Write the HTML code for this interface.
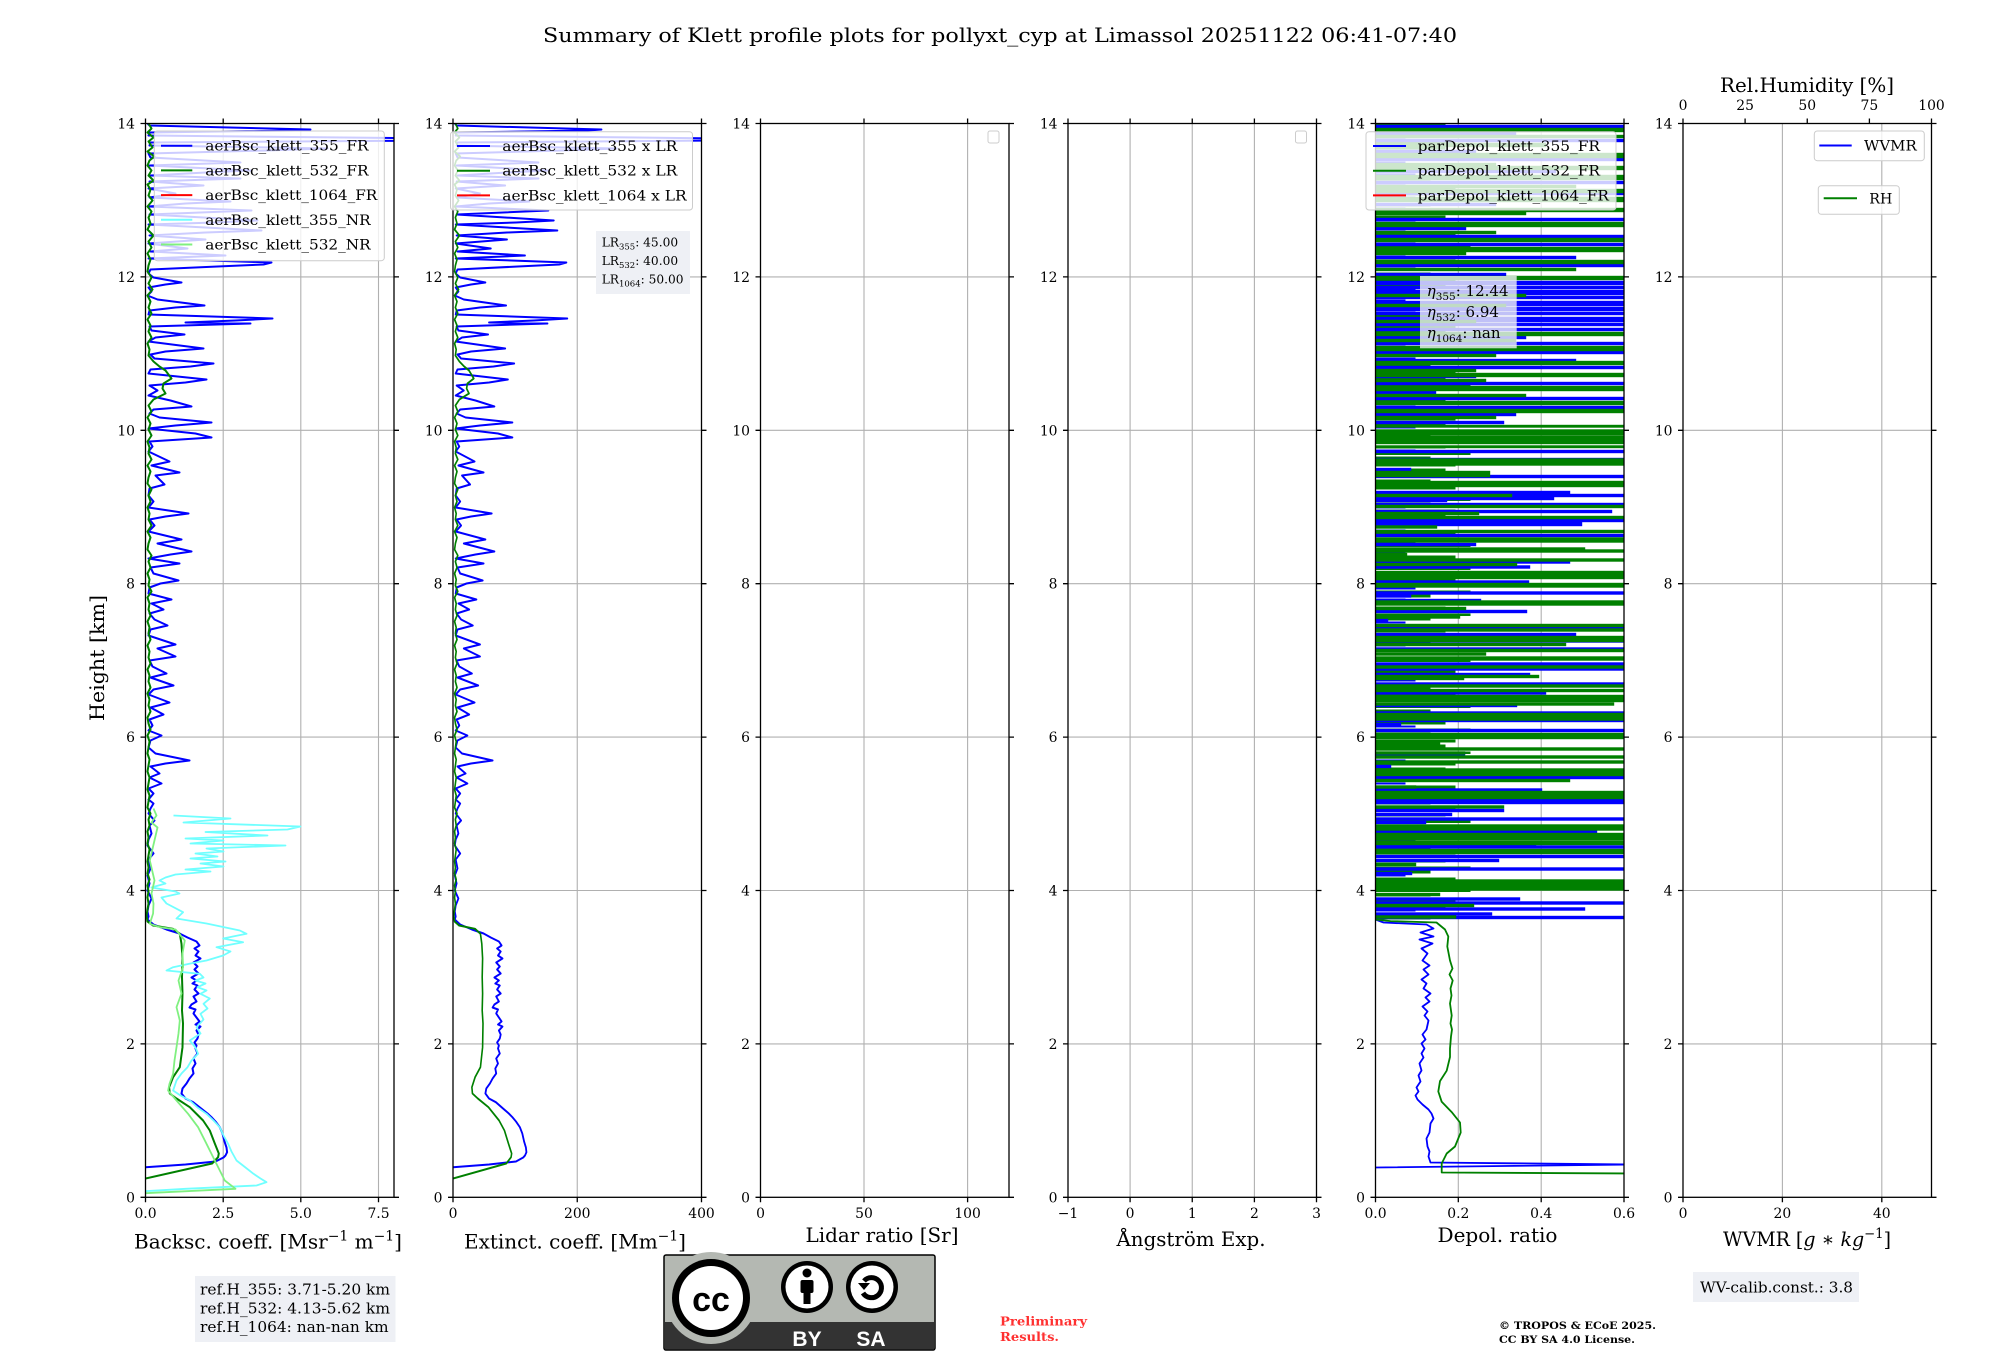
<!DOCTYPE html>
<html><head><meta charset="utf-8"><style>
html,body{margin:0;padding:0;background:#fff;}
svg{display:block;}
text{font-family:"DejaVu Serif","Liberation Serif",serif;fill:#000;}
</style></head><body>
<svg width="2000" height="1360" viewBox="0 0 2000 1360" xmlns="http://www.w3.org/2000/svg">
<defs>
<clipPath id="cp"><rect x="0" y="0" width="248.5" height="1073.8"/></clipPath>
<pattern id="lp" x="0" y="0" width="260" height="23" patternUnits="userSpaceOnUse">
<rect x="0" y="0" width="70" height="3" fill="#008000"/>
<rect x="0" y="4" width="40" height="2" fill="#0000ff"/>
<rect x="0" y="7" width="95" height="2.5" fill="#008000"/>
<rect x="0" y="11" width="55" height="3" fill="#008000"/>
<rect x="0" y="15" width="30" height="2" fill="#0000ff"/>
<rect x="0" y="18" width="80" height="3" fill="#008000"/>
</pattern>
<polyline id="b355" fill="none" stroke="#0000ff" stroke-width="2" stroke-linejoin="round" points="2,0 4,2 165,6 150,7 4,9 3,12 300,15 300,17 5,19 4,22 182,25 120,27 3,30 5,34 95,39 4,42 105,47 60,49 5,52 95,55 4,58 58,62 3,65 30,70 4,74 85,78 40,80 3,83 106,87 4,91 112,97 70,99 3,101 116,107 60,109 4,112 60,116 3,120 42,125 5,128 80,132 3,135 126,139 118,141 72,143 5,146 3,150 8,154 36,159 20,161 3,164 6,168 2,172 12,176 59,182 30,184 4,187 3,191 127,195 90,197 40,199 105,200 4,203 6,207 39,211 10,214 3,218 58,225 20,228 5,231 9,235 68,240 45,243 5,246 3,250 61,256 40,259 4,262 12,267 3,272 25,277 46,283 8,286 4,290 14,294 66,299 30,302 3,305 50,310 66,314 4,318 7,323 3,328 24,338 6,342 34,349 10,352 19,361 4,365 3,372 8,378 3,384 43,390 20,393 4,396 9,402 3,408 36,416 12,420 46,428 25,431 3,435 34,440 5,444 8,450 33,457 15,460 4,464 3,470 26,476 6,480 18,486 4,490 9,496 22,502 5,506 3,512 30,521 12,525 30,533 4,537 7,543 21,550 5,554 28,562 8,566 3,571 24,579 5,584 18,591 4,596 7,602 3,607 16,612 5,617 3,624 10,630 44,637 20,640 5,643 14,650 4,654 16,660 3,665 8,670 3,676 8,680 5,685 3,690 9,697 4,702 6,710 3,716 2,722 8,730 3,736 5,745 2,752 4,760 2,767 6,775 3,782 2,788 3,793 2,796 8,801 21,806 34,810 42,814 51,818 54,822 49,825 53,828 50,832 55,835 48,839 52,843 49,846 53,850 46,854 51,857 47,860 52,862 49,866 53,870 48,873 51,878 46,881 44,884 50,886 48,890 51,894 54,898 50,901 55,903 51,907 53,911 52,915 49,919 51,922 50,925 52,930 48,935 50,940 47,945 48,950 44,955 41,960 37,965 36,970 40,975 47.6,978.7 56,985.3 62,990 66,993.7 70,998 74.3,1003.7 77,1010 79,1018 81,1024 81.6,1028.7 80,1032 78,1034 70,1038 40,1041 0,1043.7"/>
<polyline id="g532" fill="none" stroke="#008000" stroke-width="2" stroke-linejoin="round" points="3,0 6,5 2,9 8,14 3,18 7,24 2,28 9,33 4,37 2,42 6,47 3,52 8,57 2,61 5,66 3,72 7,77 2,83 6,88 3,94 5,100 2,106 8,112 3,118 6,124 2,130 5,136 3,142 2,148 6,154 3,160 7,166 2,172 5,178 3,184 6,190 2,196 5,202 3,208 6,214 2,220 4,226 3,232 8,238 14,243 20,247 26,255 18,260 17,265 20,270 8,276 3,282 6,288 2,294 5,300 3,306 6,312 2,318 4,324 3,330 6,336 2,342 5,348 3,354 2,360 6,366 3,372 5,378 2,384 4,390 3,396 6,402 2,408 5,414 3,420 2,426 6,432 3,438 5,444 2,450 4,456 3,462 6,468 2,474 4,480 3,486 5,492 2,498 4,504 3,510 5,516 2,522 4,528 3,534 5,540 2,546 4,552 3,558 5,564 2,570 4,576 3,582 5,588 2,594 3,600 5,606 2,612 4,618 3,624 2,630 4,636 3,642 2,648 4,654 3,660 2,666 4,672 3,678 2,684 5,690 3,696 4,702 2,708 3,714 2,720 4,726 3,732 2,738 3,744 2,750 4,756 2,762 3,768 2,774 3,780 2,786 1,792 2,798 7.6,802 27.6,805.3 34.3,810.3 36,820.3 37,835 36.5,853.7 37,870 36.5,887 37.5,900 37,923.7 34.3,943.7 27.6,953.7 23.6,963.7 24.3,970 31,975 44.3,983.7 57.6,997 64.3,1007 69.3,1020 73.3,1030 72.6,1033.7 66.6,1040 0,1055"/>
</defs>

<!-- Title -->
<text x="1000" y="42" text-anchor="middle" font-size="19.4" textLength="914" lengthAdjust="spacingAndGlyphs">Summary of Klett profile plots for pollyxt_cyp at Limassol 20251122 06:41-07:40</text>
<!-- Y label -->
<text transform="translate(104,658) rotate(-90)" text-anchor="middle" font-size="19.4" textLength="126" lengthAdjust="spacingAndGlyphs">Height [km]</text>

<!-- ============ AXIS 1 ============ -->
<g transform="translate(145.5,123.5)">
<path d="M77.7,0V1073.8M155.3,0V1073.8M233,0V1073.8M0,153.4H248.5M0,306.8H248.5M0,460.2H248.5M0,613.6H248.5M0,767H248.5M0,920.4H248.5" stroke="#b0b0b0" stroke-width="1.1" fill="none"/>
<g clip-path="url(#cp)">
<use href="#b355"/>
<use href="#g532"/>
<polyline fill="none" stroke="#70ffff" stroke-width="1.8" stroke-linejoin="round" points="28,692 85,695 38,699 155,703 142,706 60,708.5 122,712 40,715 78,717 45,720 140,722 61,725 78,728 50,730 72,733 45,735 80,738 55,740 78,743 40,746 65,748 30,751 20,754 14,757 20,760 6,764 30,768 34,770 16,774 21,780 37.6,788.7 31,795 61,800 94.3,807 101,810.3 77.6,815 97.6,818.7 71,823.7 85,828 77.6,832 61,837 45,840 27.6,843.7 21,847 54.3,850.3 58,854 50,857 60,860 52,863.7 61,867 55,870.3 64.3,875 58,880.3 62,885 55,890.3 58,896 51,903.7 55,910 44.3,917 50,924 52.6,930.3 46,937 42,943.7 36,950 31,957 27.6,967 35,972 44.3,977 52,984 61,990.3 68,997 74.3,1003.7 78,1012 82.6,1020.3 86,1028 91,1037 100,1044 108,1050.3 115,1055 121,1058.7 111,1062 40,1065.3 0,1067.7"/>
<polyline fill="none" stroke="#80f080" stroke-width="1.8" stroke-linejoin="round" points="8,685 11,692 6,699 12,704 4.3,737 9,757 6,770 8,780 7.6,790 4.3,800.3 14.3,803.7 30,806 39.3,817 37,830 37.6,843.7 33,857 36,870 31,883.7 34.3,897 33,910 31,923.7 29,937 27.6,950.3 24,960.3 22.6,967 31,977 42.6,990.3 52.6,1003.7 61,1020.3 69.3,1037 79.3,1057 90,1065.3 0,1069.7"/>
</g>
<rect x="0" y="0" width="248.5" height="1073.8" fill="none" stroke="#000" stroke-width="1.3"/>
<path d="M-5,0H0M-5,153.4H0M-5,306.8H0M-5,460.2H0M-5,613.6H0M-5,767H0M-5,920.4H0M-5,1073.8H0M248.5,0h5M248.5,153.4h5M248.5,306.8h5M248.5,460.2h5M248.5,613.6h5M248.5,767h5M248.5,920.4h5M248.5,1073.8h5M0,1073.8v5M77.7,1073.8v5M155.3,1073.8v5M233,1073.8v5M0,0v-5M77.7,0v-5M155.3,0v-5M233,0v-5" stroke="#000" stroke-width="1.3"/>
<g font-size="13.9" text-anchor="end"><text x="-10.5" y="5">14</text><text x="-10.5" y="158.4">12</text><text x="-10.5" y="311.8">10</text><text x="-10.5" y="465.2">8</text><text x="-10.5" y="618.6">6</text><text x="-10.5" y="772">4</text><text x="-10.5" y="925.4">2</text><text x="-10.5" y="1078.8">0</text></g>
<g font-size="13.9" text-anchor="middle"><text x="0" y="1094.5">0.0</text><text x="77.7" y="1094.5">2.5</text><text x="155.3" y="1094.5">5.0</text><text x="233" y="1094.5">7.5</text></g>
</g>
<text x="268" y="1248.3" text-anchor="middle" font-size="19.4" textLength="268" lengthAdjust="spacingAndGlyphs">Backsc. coeff. [Msr<tspan dy="-8" font-size="13.5">−1</tspan><tspan dy="8"> m</tspan><tspan dy="-8" font-size="13.5">−1</tspan><tspan dy="8">]</tspan></text>

<!-- ============ AXIS 2 ============ -->
<g transform="translate(453,123.5)">
<path d="M124.25,0V1073.8M0,153.4H248.5M0,306.8H248.5M0,460.2H248.5M0,613.6H248.5M0,767H248.5M0,920.4H248.5" stroke="#b0b0b0" stroke-width="1.1" fill="none"/>
<g clip-path="url(#cp)">
<use href="#b355" transform="scale(0.9,1)"/>
<use href="#g532" transform="scale(0.8,1)"/>
</g>
<rect x="0" y="0" width="248.5" height="1073.8" fill="none" stroke="#000" stroke-width="1.3"/>
<path d="M-5,0H0M-5,153.4H0M-5,306.8H0M-5,460.2H0M-5,613.6H0M-5,767H0M-5,920.4H0M-5,1073.8H0M248.5,0h5M248.5,153.4h5M248.5,306.8h5M248.5,460.2h5M248.5,613.6h5M248.5,767h5M248.5,920.4h5M248.5,1073.8h5M0,1073.8v5M124.25,1073.8v5M248.5,1073.8v5M0,0v-5M124.25,0v-5M248.5,0v-5" stroke="#000" stroke-width="1.3"/>
<g font-size="13.9" text-anchor="end"><text x="-10.5" y="5">14</text><text x="-10.5" y="158.4">12</text><text x="-10.5" y="311.8">10</text><text x="-10.5" y="465.2">8</text><text x="-10.5" y="618.6">6</text><text x="-10.5" y="772">4</text><text x="-10.5" y="925.4">2</text><text x="-10.5" y="1078.8">0</text></g>
<g font-size="13.9" text-anchor="middle"><text x="0" y="1094.5">0</text><text x="124.25" y="1094.5">200</text><text x="248.5" y="1094.5">400</text></g>
</g>
<text x="575" y="1248.3" text-anchor="middle" font-size="19.4" textLength="222" lengthAdjust="spacingAndGlyphs">Extinct. coeff. [Mm<tspan dy="-8" font-size="13.5">−1</tspan><tspan dy="8">]</tspan></text>

<!-- ============ AXIS 3 ============ -->
<g transform="translate(760.5,123.5)">
<path d="M103.5,0V1073.8M207.1,0V1073.8M0,153.4H248.5M0,306.8H248.5M0,460.2H248.5M0,613.6H248.5M0,767H248.5M0,920.4H248.5" stroke="#b0b0b0" stroke-width="1.1" fill="none"/>
<rect x="0" y="0" width="248.5" height="1073.8" fill="none" stroke="#000" stroke-width="1.3"/>
<path d="M-5,0H0M-5,153.4H0M-5,306.8H0M-5,460.2H0M-5,613.6H0M-5,767H0M-5,920.4H0M-5,1073.8H0M248.5,0h5M248.5,153.4h5M248.5,306.8h5M248.5,460.2h5M248.5,613.6h5M248.5,767h5M248.5,920.4h5M248.5,1073.8h5M0,1073.8v5M103.5,1073.8v5M207.1,1073.8v5M0,0v-5M103.5,0v-5M207.1,0v-5" stroke="#000" stroke-width="1.3"/>
<g font-size="13.9" text-anchor="end"><text x="-10.5" y="5">14</text><text x="-10.5" y="158.4">12</text><text x="-10.5" y="311.8">10</text><text x="-10.5" y="465.2">8</text><text x="-10.5" y="618.6">6</text><text x="-10.5" y="772">4</text><text x="-10.5" y="925.4">2</text><text x="-10.5" y="1078.8">0</text></g>
<g font-size="13.9" text-anchor="middle"><text x="0" y="1094.5">0</text><text x="103.5" y="1094.5">50</text><text x="207.1" y="1094.5">100</text></g>
<rect x="227.5" y="7.5" width="11" height="12" rx="2" fill="#fff" stroke="#cccccc" stroke-width="1"/>
</g>
<text x="882" y="1242" text-anchor="middle" font-size="19.4" textLength="153" lengthAdjust="spacingAndGlyphs">Lidar ratio [Sr]</text>

<!-- ============ AXIS 4 ============ -->
<g transform="translate(1068,123.5)">
<path d="M62.1,0V1073.8M124.25,0V1073.8M186.4,0V1073.8M0,153.4H248.5M0,306.8H248.5M0,460.2H248.5M0,613.6H248.5M0,767H248.5M0,920.4H248.5" stroke="#b0b0b0" stroke-width="1.1" fill="none"/>
<rect x="0" y="0" width="248.5" height="1073.8" fill="none" stroke="#000" stroke-width="1.3"/>
<path d="M-5,0H0M-5,153.4H0M-5,306.8H0M-5,460.2H0M-5,613.6H0M-5,767H0M-5,920.4H0M-5,1073.8H0M248.5,0h5M248.5,153.4h5M248.5,306.8h5M248.5,460.2h5M248.5,613.6h5M248.5,767h5M248.5,920.4h5M248.5,1073.8h5M0,1073.8v5M62.1,1073.8v5M124.25,1073.8v5M186.4,1073.8v5M248.5,1073.8v5M0,0v-5M62.1,0v-5M124.25,0v-5M186.4,0v-5M248.5,0v-5" stroke="#000" stroke-width="1.3"/>
<g font-size="13.9" text-anchor="end"><text x="-10.5" y="5">14</text><text x="-10.5" y="158.4">12</text><text x="-10.5" y="311.8">10</text><text x="-10.5" y="465.2">8</text><text x="-10.5" y="618.6">6</text><text x="-10.5" y="772">4</text><text x="-10.5" y="925.4">2</text><text x="-10.5" y="1078.8">0</text></g>
<g font-size="13.9" text-anchor="middle"><text x="0" y="1094.5">−1</text><text x="62.1" y="1094.5">0</text><text x="124.25" y="1094.5">1</text><text x="186.4" y="1094.5">2</text><text x="248.5" y="1094.5">3</text></g>
<rect x="227.5" y="7.5" width="11" height="12" rx="2" fill="#fff" stroke="#cccccc" stroke-width="1"/>
</g>
<text x="1191" y="1246" text-anchor="middle" font-size="19.4" textLength="149" lengthAdjust="spacingAndGlyphs">Ångström Exp.</text>

<!-- ============ AXIS 5 ============ -->
<g transform="translate(1375.5,123.5)">
<path d="M82.8,0V1073.8M165.7,0V1073.8M0,153.4H248.5M0,306.8H248.5M0,460.2H248.5M0,613.6H248.5M0,767H248.5M0,920.4H248.5" stroke="#b0b0b0" stroke-width="1.1" fill="none"/>
<g clip-path="url(#cp)">
<rect x="0" y="0" width="110" height="796" fill="url(#lp)"/>
<g fill="#0000ff" stroke="#0000ff" stroke-width="1.4">
<rect y="2" height="2" width="260"/><rect y="9" height="2" width="140"/><rect y="16" height="2" width="260"/><rect y="27" height="2" width="100"/><rect y="35" height="2" width="260"/><rect y="47" height="2" width="180"/><rect y="58" height="2" width="260"/><rect y="69" height="2" width="260"/><rect y="80" height="2" width="120"/><rect y="95" height="2" width="260"/><rect y="104" height="2" width="90"/><rect y="112" height="2" width="260"/><rect y="120" height="2" width="260"/><rect y="133" height="2" width="200"/><rect y="141" height="2" width="260"/><rect y="150" height="2" width="130"/><rect y="158" height="3" width="260"/><rect y="163" height="2" width="260"/><rect y="167" height="4" width="260"/><rect y="173" height="2" width="260"/><rect y="178" height="4" width="260"/><rect y="184" height="3" width="260"/><rect y="189" height="2" width="260"/><rect y="194" height="4" width="260"/><rect y="200" height="2" width="260"/><rect y="205" height="2" width="260"/><rect y="213" height="2" width="150"/><rect y="219" height="2" width="260"/><rect y="228" height="2" width="260"/><rect y="236" height="2" width="200"/><rect y="243" height="2" width="260"/><rect y="252" height="2" width="100"/><rect y="259" height="2" width="260"/><rect y="268" height="2" width="60"/><rect y="274" height="2" width="260"/><rect y="283" height="2" width="260"/><rect y="290" height="2" width="140"/>
<rect y="298" height="2" width="128"/><rect y="327" height="2" width="260"/><rect y="335" height="1.5" width="260"/><rect y="345" height="2" width="35"/><rect y="352" height="2" width="260"/><rect y="368" height="2" width="194"/><rect y="371" height="2" width="260"/><rect y="374" height="2" width="178"/><rect y="376" height="2" width="71"/><rect y="380" height="2" width="260"/><rect y="387" height="2" width="236"/><rect y="396" height="2" width="260"/><rect y="399" height="3" width="206"/><rect y="411" height="2" width="260"/><rect y="420" height="2" width="100"/><rect y="437.5" height="2" width="194"/><rect y="442.5" height="2" width="154"/><rect y="450" height="2" width="52"/><rect y="457.5" height="2" width="153"/><rect y="468.5" height="2" width="260"/><rect y="471.5" height="2" width="35"/><rect y="476" height="2" width="105"/><rect y="487" height="2" width="151"/><rect y="496" height="2" width="12"/><rect y="503.5" height="2" width="260"/><rect y="510" height="2" width="200"/><rect y="516.5" height="2" width="260"/><rect y="524.5" height="2" width="260"/><rect y="539.5" height="2" width="260"/><rect y="544.5" height="2" width="260"/><rect y="550" height="2" width="154"/><rect y="559.5" height="2" width="260"/><rect y="568.5" height="2" width="170"/><rect y="581" height="2" width="141"/><rect y="588.5" height="2" width="260"/><rect y="596" height="2" width="260"/><rect y="600" height="2" width="25"/><rect y="606" height="2" width="260"/><rect y="629.5" height="2" width="89"/><rect y="642" height="2" width="15"/><rect y="652" height="3" width="260"/><rect y="665.5" height="2" width="166"/><rect y="676" height="4" width="260"/><rect y="686" height="2" width="128"/><rect y="690" height="2" width="76"/><rect y="694.5" height="2" width="260"/><rect y="698" height="2" width="50"/><rect y="707.5" height="2" width="221"/><rect y="720" height="2" width="160"/><rect y="722.5" height="2" width="260"/><rect y="732" height="2" width="260"/><rect y="736" height="2" width="123"/><rect y="744.5" height="2" width="260"/><rect y="749" height="2" width="36"/><rect y="774.5" height="2" width="144"/><rect y="778.5" height="2" width="260"/><rect y="784.5" height="2" width="209"/><rect y="789.5" height="2" width="116"/><rect y="793" height="2" width="260"/>
</g>
<g fill="#008000" stroke="#008000" stroke-width="1.4">
<rect y="5" height="3" width="260"/><rect y="12" height="2" width="260"/><rect y="20" height="3" width="170"/><rect y="30" height="4" width="260"/><rect y="40" height="2" width="120"/><rect y="43" height="3" width="260"/><rect y="52" height="4" width="260"/><rect y="62" height="2" width="200"/><rect y="66" height="3" width="260"/><rect y="74" height="4" width="260"/><rect y="85" height="3" width="260"/><rect y="89" height="2" width="150"/><rect y="99" height="4" width="260"/><rect y="108" height="2" width="120"/><rect y="115" height="3" width="260"/><rect y="124" height="4" width="260"/><rect y="129" height="2" width="90"/><rect y="137" height="3" width="260"/><rect y="145" height="2" width="200"/><rect y="153" height="3" width="260"/><rect y="171" height="2" width="150"/><rect y="181" height="2" width="130"/><rect y="197" height="2" width="100"/><rect y="209" height="3" width="260"/><rect y="216" height="2" width="140"/><rect y="223" height="4" width="260"/><rect y="231" height="2" width="120"/><rect y="238" height="3" width="260"/><rect y="246" height="2" width="100"/><rect y="250" height="3" width="260"/><rect y="256" height="2" width="110"/><rect y="263" height="4" width="260"/><rect y="271" height="2" width="150"/><rect y="278" height="3" width="260"/><rect y="286" height="3" width="260"/><rect y="293" height="2" width="120"/>
<rect y="302" height="1.5" width="260"/><rect y="306.5" height="5" width="260"/><rect y="313" height="7" width="260"/><rect y="322.5" height="1.5" width="260"/><rect y="335.5" height="6" width="260"/><rect y="348" height="5" width="114"/><rect y="358" height="5" width="260"/><rect y="371" height="2" width="136"/><rect y="382" height="2" width="260"/><rect y="389" height="2" width="103"/><rect y="393" height="2" width="260"/><rect y="402.5" height="2" width="61"/><rect y="407" height="2" width="260"/><rect y="414.5" height="4" width="260"/><rect y="424.5" height="2" width="209"/><rect y="426.5" height="2" width="260"/><rect y="430" height="2" width="31"/><rect y="435.5" height="2" width="260"/><rect y="440" height="2" width="141"/><rect y="448" height="7" width="260"/><rect y="460" height="3.5" width="260"/><rect y="477.5" height="4" width="260"/><rect y="484" height="2" width="90"/><rect y="492.5" height="2" width="84"/><rect y="501" height="2" width="260"/><rect y="505.5" height="2" width="260"/><rect y="513" height="5" width="260"/><rect y="520" height="2" width="190"/><rect y="526" height="2" width="260"/><rect y="529.5" height="2" width="110"/><rect y="533.5" height="3" width="260"/><rect y="542.5" height="2" width="260"/><rect y="552" height="2" width="163"/><rect y="554" height="2" width="88"/><rect y="561.5" height="2" width="260"/><rect y="566" height="2" width="260"/><rect y="572" height="6" width="260"/><rect y="579.5" height="2" width="238"/><rect y="590" height="6.5" width="260"/><rect y="610" height="5" width="260"/><rect y="618" height="3" width="64"/><rect y="624.5" height="2" width="260"/><rect y="628.5" height="2" width="89"/><rect y="632.5" height="2" width="260"/><rect y="637.5" height="2" width="260"/><rect y="645.5" height="4" width="260"/><rect y="650" height="2" width="260"/><rect y="656" height="2" width="194"/><rect y="662.5" height="2" width="40"/><rect y="668" height="7" width="260"/><rect y="682.5" height="2" width="128"/><rect y="701.5" height="5" width="260"/><rect y="710" height="6.5" width="260"/><rect y="718" height="3" width="260"/><rect y="726" height="4" width="260"/><rect y="740" height="2" width="40"/><rect y="756.5" height="10" width="260"/><rect y="770" height="2" width="64"/><rect y="781" height="2" width="98"/><rect y="792.5" height="2" width="80"/>
</g>
<polyline fill="none" stroke="#0000ff" stroke-width="1.8" stroke-linejoin="round" points="0,796 8,799 51,801 58,805 45,809 58,813 44,816 57,820 46,825 52,830 47,837 54,842 48,846 53,851 46,856 51,860 48,865 55,870 50,874 54,878 47,883 52,888 49,892 53,897 51,906 47,911 50,916 46,920 49,925 46,930 48,934 44,940 46,947 43,952 45,958 41,964 43,968 40,972 42,976 47,981 53,986 56,990 58,995 55,1000 54,1009 51,1015 52,1023 54,1028 53,1033 55,1039 260,1041 0,1044"/>
<polyline fill="none" stroke="#008000" stroke-width="1.8" stroke-linejoin="round" points="0,796 15,797.6 61,799 69.5,806 72.8,813 71.8,823 74.5,837 77,845 74,851 77.2,857 75,865 76,872 74.5,880 76.2,892 75,900 76.5,906 75.5,913 74.5,925 74.5,933.5 71.2,947.2 64.5,957.6 62.8,968 66.2,978.3 76.2,988.6 84.5,999 85.2,1009 79.5,1023 71.2,1030 66.2,1040 66.2,1049 260,1050"/>
</g>
<rect x="0" y="0" width="248.5" height="1073.8" fill="none" stroke="#000" stroke-width="1.3"/>
<path d="M-5,0H0M-5,153.4H0M-5,306.8H0M-5,460.2H0M-5,613.6H0M-5,767H0M-5,920.4H0M-5,1073.8H0M248.5,0h5M248.5,153.4h5M248.5,306.8h5M248.5,460.2h5M248.5,613.6h5M248.5,767h5M248.5,920.4h5M248.5,1073.8h5M0,1073.8v5M82.8,1073.8v5M165.7,1073.8v5M248.5,1073.8v5M0,0v-5M82.8,0v-5M165.7,0v-5M248.5,0v-5" stroke="#000" stroke-width="1.3"/>
<g font-size="13.9" text-anchor="end"><text x="-10.5" y="5">14</text><text x="-10.5" y="158.4">12</text><text x="-10.5" y="311.8">10</text><text x="-10.5" y="465.2">8</text><text x="-10.5" y="618.6">6</text><text x="-10.5" y="772">4</text><text x="-10.5" y="925.4">2</text><text x="-10.5" y="1078.8">0</text></g>
<g font-size="13.9" text-anchor="middle"><text x="0" y="1094.5">0.0</text><text x="82.8" y="1094.5">0.2</text><text x="165.7" y="1094.5">0.4</text><text x="248.5" y="1094.5">0.6</text></g>
</g>
<text x="1497.5" y="1242" text-anchor="middle" font-size="19.4" textLength="120" lengthAdjust="spacingAndGlyphs">Depol. ratio</text>

<!-- ============ AXIS 6 ============ -->
<g transform="translate(1683,123.5)">
<path d="M99.4,0V1073.8M198.8,0V1073.8M0,153.4H248.5M0,306.8H248.5M0,460.2H248.5M0,613.6H248.5M0,767H248.5M0,920.4H248.5" stroke="#b0b0b0" stroke-width="1.1" fill="none"/>
<rect x="0" y="0" width="248.5" height="1073.8" fill="none" stroke="#000" stroke-width="1.3"/>
<path d="M-5,0H0M-5,153.4H0M-5,306.8H0M-5,460.2H0M-5,613.6H0M-5,767H0M-5,920.4H0M-5,1073.8H0M248.5,0h5M248.5,153.4h5M248.5,306.8h5M248.5,460.2h5M248.5,613.6h5M248.5,767h5M248.5,920.4h5M248.5,1073.8h5M0,1073.8v5M99.4,1073.8v5M198.8,1073.8v5M0,0v-5M62.1,0v-5M124.25,0v-5M186.4,0v-5M248.5,0v-5" stroke="#000" stroke-width="1.3"/>
<g font-size="13.9" text-anchor="end"><text x="-10.5" y="5">14</text><text x="-10.5" y="158.4">12</text><text x="-10.5" y="311.8">10</text><text x="-10.5" y="465.2">8</text><text x="-10.5" y="618.6">6</text><text x="-10.5" y="772">4</text><text x="-10.5" y="925.4">2</text><text x="-10.5" y="1078.8">0</text></g>
<g font-size="13.9" text-anchor="middle"><text x="0" y="1094.5">0</text><text x="99.4" y="1094.5">20</text><text x="198.8" y="1094.5">40</text>
<text x="0" y="-13.7">0</text><text x="62.1" y="-13.7">25</text><text x="124.25" y="-13.7">50</text><text x="186.4" y="-13.7">75</text><text x="248.5" y="-13.7">100</text></g>
</g>
<text x="1807" y="92" text-anchor="middle" font-size="19.4" textLength="174" lengthAdjust="spacingAndGlyphs">Rel.Humidity [%]</text>
<text x="1807" y="1246" text-anchor="middle" font-size="19.4" textLength="168" lengthAdjust="spacingAndGlyphs">WVMR [<tspan font-style="italic">g</tspan> ∗ <tspan font-style="italic">kg</tspan><tspan dy="-8" font-size="13.5">−1</tspan><tspan dy="8">]</tspan></text>

<!-- ============ LEGENDS ============ -->
<g font-size="13.9">
<rect x="154.3" y="131" width="230" height="129.7" rx="3" fill="#fff" fill-opacity="0.8" stroke="#cccccc" stroke-width="1"/>
<path d="M161,145.7H192.3" stroke="#0000ff" stroke-width="2"/>
<path d="M161,170.4H192.3" stroke="#008000" stroke-width="2"/>
<path d="M161,195.1H192.3" stroke="#ff0000" stroke-width="2"/>
<path d="M161,219.8H192.3" stroke="#70ffff" stroke-width="2"/>
<path d="M161,244.5H192.3" stroke="#80f080" stroke-width="2"/>
<text x="205.3" y="150.7" textLength="163.3" lengthAdjust="spacingAndGlyphs">aerBsc_klett_355_FR</text>
<text x="205.3" y="175.4" textLength="163.3" lengthAdjust="spacingAndGlyphs">aerBsc_klett_532_FR</text>
<text x="205.3" y="200.1" textLength="172" lengthAdjust="spacingAndGlyphs">aerBsc_klett_1064_FR</text>
<text x="205.3" y="224.8" textLength="165.3" lengthAdjust="spacingAndGlyphs">aerBsc_klett_355_NR</text>
<text x="205.3" y="249.5" textLength="165.3" lengthAdjust="spacingAndGlyphs">aerBsc_klett_532_NR</text>

<rect x="450.5" y="131.7" width="242" height="78.3" rx="3" fill="#fff" fill-opacity="0.8" stroke="#cccccc" stroke-width="1"/>
<path d="M457,146H490" stroke="#0000ff" stroke-width="2"/>
<path d="M457,170.7H490" stroke="#008000" stroke-width="2"/>
<path d="M457,195.4H490" stroke="#ff0000" stroke-width="2"/>
<text x="502.3" y="151" textLength="175" lengthAdjust="spacingAndGlyphs">aerBsc_klett_355 x LR</text>
<text x="502.3" y="175.7" textLength="175" lengthAdjust="spacingAndGlyphs">aerBsc_klett_532 x LR</text>
<text x="502.3" y="200.4" textLength="184.3" lengthAdjust="spacingAndGlyphs">aerBsc_klett_1064 x LR</text>

<rect x="1366" y="131.7" width="250" height="78.3" rx="3" fill="#fff" fill-opacity="0.8" stroke="#cccccc" stroke-width="1"/>
<path d="M1373,146H1406" stroke="#0000ff" stroke-width="2"/>
<path d="M1373,170.7H1406" stroke="#008000" stroke-width="2"/>
<path d="M1373,195.4H1406" stroke="#ff0000" stroke-width="2"/>
<text x="1417.7" y="151" textLength="182.3" lengthAdjust="spacingAndGlyphs">parDepol_klett_355_FR</text>
<text x="1417.7" y="175.7" textLength="182.3" lengthAdjust="spacingAndGlyphs">parDepol_klett_532_FR</text>
<text x="1417.7" y="200.4" textLength="191.3" lengthAdjust="spacingAndGlyphs">parDepol_klett_1064_FR</text>

<rect x="1814.3" y="131" width="110" height="29.7" rx="3" fill="#fff" fill-opacity="0.8" stroke="#cccccc" stroke-width="1"/>
<path d="M1819.3,145.5H1851.7" stroke="#0000ff" stroke-width="2"/>
<text x="1864" y="150.5" textLength="52.7" lengthAdjust="spacingAndGlyphs">WVMR</text>
<rect x="1818.3" y="185.7" width="81" height="28.6" rx="3" fill="#fff" fill-opacity="0.8" stroke="#cccccc" stroke-width="1"/>
<path d="M1823.7,198.3H1857" stroke="#008000" stroke-width="2"/>
<text x="1869.3" y="203.3" textLength="23" lengthAdjust="spacingAndGlyphs">RH</text>
</g>

<!-- LR box -->
<rect x="596" y="231" width="94" height="63" fill="#eef0f5"/>
<g font-size="12.2">
<text x="601.7" y="246.5">LR<tspan font-size="8.5" dy="3">355</tspan><tspan dy="-3">: 45.00</tspan></text>
<text x="601.7" y="265">LR<tspan font-size="8.5" dy="3">532</tspan><tspan dy="-3">: 40.00</tspan></text>
<text x="601.7" y="283.5">LR<tspan font-size="8.5" dy="3">1064</tspan><tspan dy="-3">: 50.00</tspan></text>
</g>

<!-- eta box -->
<rect x="1420" y="276" width="96.7" height="72.3" fill="#f0f1f5" fill-opacity="0.8"/>
<g font-size="15">
<text x="1426.7" y="296"><tspan font-style="italic">η</tspan><tspan font-size="10.5" dy="4">355</tspan><tspan dy="-4">: 12.44</tspan></text>
<text x="1426.7" y="317"><tspan font-style="italic">η</tspan><tspan font-size="10.5" dy="4">532</tspan><tspan dy="-4">: 6.94</tspan></text>
<text x="1426.7" y="338"><tspan font-style="italic">η</tspan><tspan font-size="10.5" dy="4">1064</tspan><tspan dy="-4">: nan</tspan></text>
</g>

<!-- ref.H box -->
<rect x="195" y="1276" width="200.5" height="66" fill="#eef0f5"/>
<g font-size="14.5">
<text x="200" y="1294.5" textLength="190" lengthAdjust="spacingAndGlyphs">ref.H_355: 3.71-5.20 km</text>
<text x="200" y="1313.5" textLength="190" lengthAdjust="spacingAndGlyphs">ref.H_532: 4.13-5.62 km</text>
<text x="200" y="1332" textLength="188.6" lengthAdjust="spacingAndGlyphs">ref.H_1064: nan-nan km</text>
</g>

<!-- WV calib box -->
<rect x="1693" y="1272" width="166" height="30" fill="#eef0f5"/>
<text x="1700" y="1292.5" font-size="14.5" textLength="153" lengthAdjust="spacingAndGlyphs">WV-calib.const.: 3.8</text>

<!-- CC logo -->
<g>
<rect x="664" y="1255" width="271" height="95" rx="2" fill="#b4b8b2" stroke="#000" stroke-width="1.5"/>
<rect x="665" y="1322" width="269" height="27.5" fill="#333333"/>
<circle cx="711" cy="1298" r="46" fill="#b4b8b2"/>
<circle cx="711" cy="1298" r="39" fill="#000"/>
<circle cx="711" cy="1298" r="32" fill="#fff"/>
<text x="711" y="1311" text-anchor="middle" font-weight="bold" font-size="34" style="font-family:'Liberation Sans',sans-serif">cc</text>
<circle cx="807" cy="1287" r="26" fill="#000"/>
<circle cx="807" cy="1287" r="21.5" fill="#fff"/>
<circle cx="807" cy="1273" r="4.5" fill="#000"/>
<rect x="800.5" y="1280" width="13" height="13" rx="2" fill="#000"/>
<rect x="803.5" y="1290" width="7" height="14" fill="#000"/>
<circle cx="872" cy="1287" r="26" fill="#000"/>
<circle cx="872" cy="1287" r="21.5" fill="#fff"/>
<path d="M864,1281 A10,10 0 1 1 863,1293" fill="none" stroke="#000" stroke-width="5"/>
<path d="M858,1283 L870,1283 L864,1290 Z" fill="#000"/>
<text x="807" y="1346" text-anchor="middle" font-weight="bold" font-size="21" style="font-family:'Liberation Sans',sans-serif;fill:#fff">BY</text>
<text x="871" y="1346" text-anchor="middle" font-weight="bold" font-size="21" style="font-family:'Liberation Sans',sans-serif;fill:#fff">SA</text>
</g>

<!-- Preliminary -->
<text x="1000" y="1325.5" font-size="12.5" font-weight="bold" style="fill:#ff3030" textLength="87" lengthAdjust="spacingAndGlyphs">Preliminary</text>
<text x="1000" y="1341" font-size="12.5" font-weight="bold" style="fill:#ff3030" textLength="59" lengthAdjust="spacingAndGlyphs">Results.</text>

<!-- Copyright -->
<text x="1499" y="1329" font-size="10.5" font-weight="bold" textLength="157" lengthAdjust="spacingAndGlyphs">© TROPOS &amp; ECoE 2025.</text>
<text x="1499" y="1343" font-size="10.5" font-weight="bold" textLength="136" lengthAdjust="spacingAndGlyphs">CC BY SA 4.0 License.</text>
</svg>
</body></html>
